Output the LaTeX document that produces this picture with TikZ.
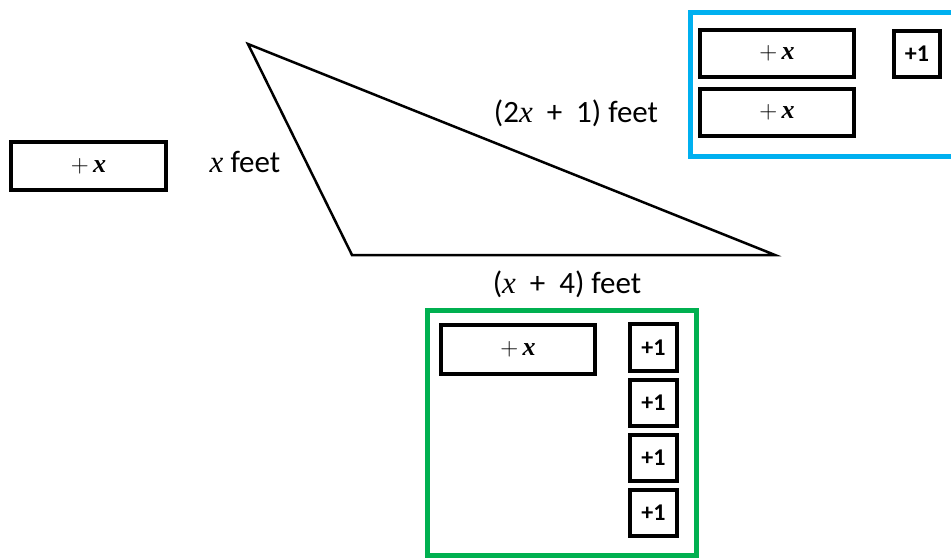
\documentclass[tikz,border=0pt]{standalone}
\usepackage{fontspec}
\setmainfont{Carlito}
\newfontfamily\serifx{Liberation Serif}
\newcommand{\vx}{{\serifx\itshape x}}
\newcommand{\tx}{$+$\,{\serifx\bfseries\itshape x}}
\definecolor{tblue}{HTML}{00B0F0}
\definecolor{tgreen}{HTML}{00B050}
\begin{document}
\begin{tikzpicture}[x=1pt,y=-1pt,
  tile/.style={draw=black,line width=4.5pt,fill=white},
  xtile/.style={font=\fontsize{26}{26}\selectfont},
  onetile/.style={font=\bfseries\fontsize{24}{24}\selectfont},
  lbl/.style={font=\fontsize{31}{31}\selectfont,inner sep=0pt},
  frame/.style={line width=5pt}]
\useasboundingbox (0,0) rectangle (951,559);
\clip (0,0) rectangle (951,559);
% triangle
\coordinate (A) at (248,44);
\coordinate (B) at (352,255);
\coordinate (C) at (775,255);
\draw[line width=2.5pt,line join=miter] (A) -- (B) -- (C) -- cycle;
% labels
\node[lbl] (lx) at (245,162) {\vx{} feet};
\node[lbl] (l2x) at (576,113) {(2\vx\ \ +\ \ 1) feet};
\node[lbl] (lx4) at (567,284) {(\vx\ \ +\ \ 4) feet};
% left tile
\draw[tile] (11,142) rectangle (166,190);
\node[xtile] (t0) at (88.5,166) {\tx};
% blue frame
\draw[frame,draw=tblue] (690,13) rectangle (970,157);
\draw[tile] (700,30) rectangle (854,77);
\node[xtile] (t1) at (777,53.5) {\tx};
\draw[tile] (700,89) rectangle (854,136);
\node[xtile] (t2) at (777,112.5) {\tx};
\draw[tile] (894,31) rectangle (940,77);
\node[onetile] (o1) at (917,54) {+1};
% green frame
\draw[frame,draw=tgreen] (427,310) rectangle (696,555);
\draw[tile] (441,325) rectangle (595,374);
\node[xtile] (t3) at (518,349.5) {\tx};
\draw[tile] (630,324) rectangle (677,371);
\node[onetile] (o2) at (653.5,347.5) {+1};
\draw[tile] (630,380) rectangle (677,426);
\node[onetile] (o3) at (653.5,403) {+1};
\draw[tile] (630,435) rectangle (677,481);
\node[onetile] (o4) at (653.5,458) {+1};
\draw[tile] (630,490) rectangle (677,536);
\node[onetile] (o5) at (653.5,513) {+1};
\end{tikzpicture}
\end{document}
